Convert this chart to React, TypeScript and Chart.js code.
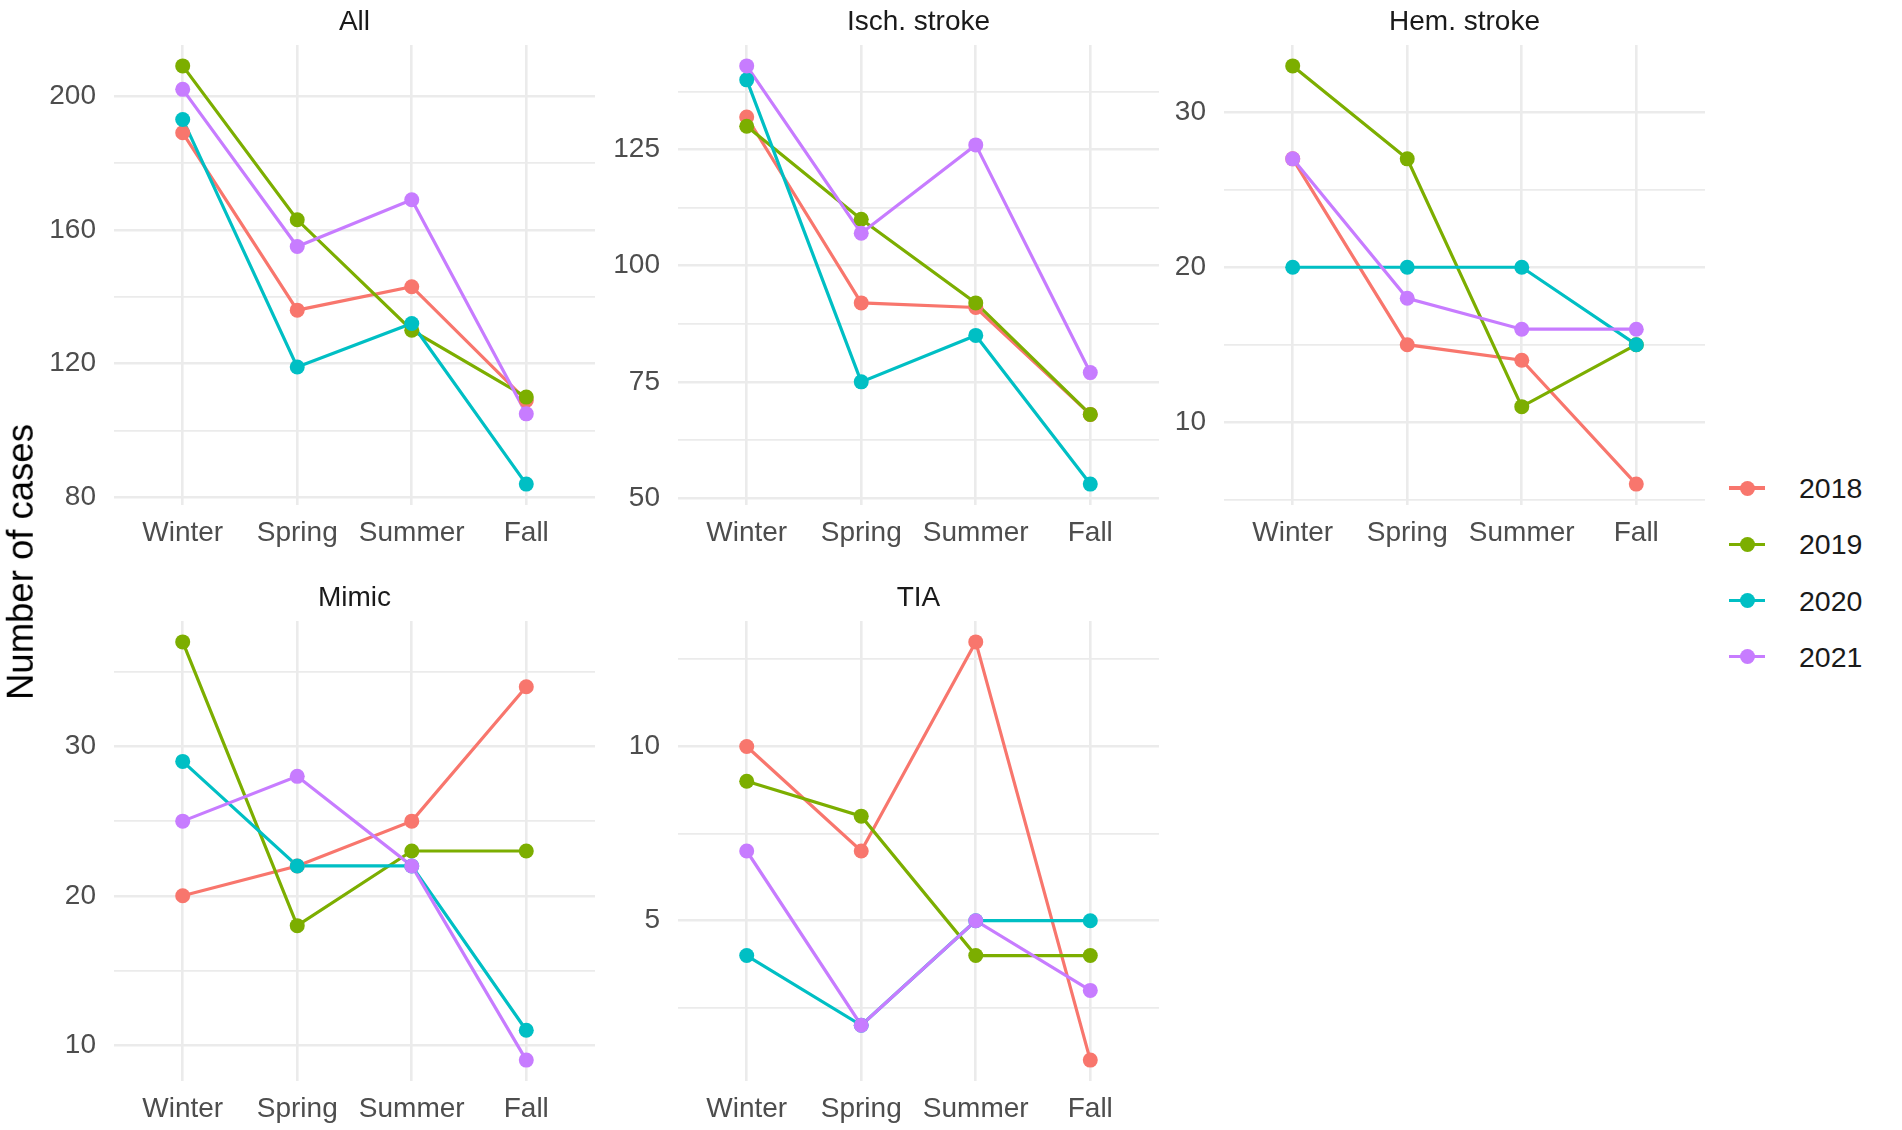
import React, { useEffect, useRef } from "react";
import Chart from "chart.js/auto";

const seasons = ["Winter", "Spring", "Summer", "Fall"];
const years = ["2018", "2019", "2020", "2021"];
const yearColors = ["#F8766D", "#7CAE00", "#00BFC4", "#C77CFF"];

// cases per season, one row per year (2018, 2019, 2020, 2021)
const allCases = [
  [189, 136, 143, 109],
  [209, 163, 130, 110],
  [193, 119, 132, 84],
  [202, 155, 169, 105],
];
const ischCases = [
  [132, 92, 91, 68],
  [130, 110, 92, 68],
  [140, 75, 85, 53],
  [143, 107, 126, 77],
];
const hemCases = [
  [27, 15, 14, 6],
  [33, 27, 11, 15],
  [20, 20, 20, 15],
  [27, 18, 16, 16],
];
const mimicCases = [
  [20, 22, 25, 34],
  [37, 18, 23, 23],
  [29, 22, 22, 11],
  [25, 28, 22, 9],
];
const tiaCases = [
  [10, 7, 13, 1],
  [9, 8, 4, 4],
  [4, 2, 5, 5],
  [7, 2, 5, 3],
];

// labelled (major) and unlabelled (minor) y gridlines per panel
const allMajor = [80, 120, 160, 200];
const allMinor = [100, 140, 180];
const ischMajor = [50, 75, 100, 125];
const ischMinor = [62.5, 87.5, 112.5, 137.5];
const hemMajor = [10, 20, 30];
const hemMinor = [5, 15, 25];
const mimicMajor = [10, 20, 30];
const mimicMinor = [15, 25, 35];
const tiaMajor = [5, 10];
const tiaMinor = [2.5, 7.5, 12.5];

const FONT = "'Liberation Sans', Arial, Helvetica, sans-serif";
const TEXT_SIZE = 28;
const PLOT_W = 481;
const PLOT_H = 460;
const AXIS_W = 110;
const TITLE_H = 45;
const XAXIS_H = 60;
const RIGHT_PAD = 12;

type PanelProps = {
  title: string;
  values: number[][];
  major: number[];
  minor: number[];
  left: number;
  top: number;
};

const Panel: React.FC<PanelProps> = ({ title, values, major, minor, left, top }) => {
  const canvasRef = useRef<HTMLCanvasElement | null>(null);

  useEffect(() => {
    if (!canvasRef.current) return;
    const flat = values.flat();
    const lo = Math.min(...flat);
    const hi = Math.max(...flat);
    const pad = (hi - lo) * 0.05;
    const yTicks = [...major, ...minor].sort((a, b) => a - b);

    const lines = values.map((row, i) => ({
      label: years[i],
      data: row.map((v, j) => ({ x: j, y: v })),
      borderColor: yearColors[i],
      backgroundColor: yearColors[i],
      borderWidth: 3.2,
      pointRadius: 0,
      pointHoverRadius: 0,
      order: 8 - i,
    }));
    const points = values.map((row, i) => ({
      label: years[i],
      data: row.map((v, j) => ({ x: j, y: v })),
      showLine: false,
      pointBackgroundColor: yearColors[i],
      pointBorderWidth: 0,
      pointRadius: 7.5,
      order: 4 - i,
    }));

    const chart = new Chart(canvasRef.current, {
      type: "line",
      data: { datasets: [...lines, ...points] as any },
      options: {
        animation: false,
        responsive: false,
        events: [],
        layout: { padding: { left: 0, right: RIGHT_PAD, top: 0, bottom: 0 } },
        plugins: {
          legend: { display: false },
          tooltip: { enabled: false },
          title: {
            display: true,
            text: title,
            fullSize: false,
            color: "#1A1A1A",
            font: { family: FONT, size: TEXT_SIZE, weight: "normal" },
            padding: { top: 5, bottom: 6.4 },
          },
        },
        scales: {
          x: {
            type: "linear",
            min: -0.6,
            max: 3.6,
            afterBuildTicks: (axis: any) => {
              axis.ticks = seasons.map((_, j) => ({ value: j }));
            },
            afterFit: (axis: any) => {
              axis.height = XAXIS_H;
            },
            grid: { color: "#EBEBEB", lineWidth: 2.6, drawTicks: false },
            border: { display: false },
            ticks: {
              callback: (v: any) => seasons[v],
              color: "#4D4D4D",
              font: { family: FONT, size: TEXT_SIZE },
              padding: 11,
              autoSkip: false,
              maxRotation: 0,
            },
          },
          y: {
            type: "linear",
            min: lo - pad,
            max: hi + pad,
            afterBuildTicks: (axis: any) => {
              axis.ticks = yTicks.map((v) => ({ value: v }));
            },
            afterFit: (axis: any) => {
              axis.width = AXIS_W;
            },
            grid: {
              color: "#EBEBEB",
              lineWidth: (ctx: any) => (ctx.tick && major.includes(ctx.tick.value) ? 2.6 : 1.8),
              drawTicks: false,
            },
            border: { display: false },
            ticks: {
              callback: (v: any) => (major.includes(v) ? String(v) : ""),
              color: "#4D4D4D",
              font: { family: FONT, size: TEXT_SIZE },
              padding: 18,
              autoSkip: false,
            },
          },
        },
      },
    });

    return () => {
      chart.destroy();
    };
  }, []);

  return (
    <canvas
      ref={canvasRef}
      width={AXIS_W + PLOT_W + RIGHT_PAD}
      height={TITLE_H + PLOT_H + XAXIS_H}
      style={{ position: "absolute", left: left - AXIS_W, top: top - TITLE_H }}
    />
  );
};

const App: React.FC = () => {
  useEffect(() => {
    document.body.style.margin = "0";
  }, []);

  return (
    <div
      style={{
        position: "absolute",
        left: 0,
        top: 0,
        width: 1902,
        height: 1130,
        overflow: "hidden",
        background: "#FFFFFF",
        fontFamily: FONT,
      }}>
      <Panel title="All" values={allCases} major={allMajor} minor={allMinor} left={114} top={45} />
      <Panel title="Isch. stroke" values={ischCases} major={ischMajor} minor={ischMinor} left={678} top={45} />
      <Panel title="Hem. stroke" values={hemCases} major={hemMajor} minor={hemMinor} left={1224} top={45} />
      <Panel title="Mimic" values={mimicCases} major={mimicMajor} minor={mimicMinor} left={114} top={621} />
      <Panel title="TIA" values={tiaCases} major={tiaMajor} minor={tiaMinor} left={678} top={621} />

      <div
        style={{
          position: "absolute",
          left: 21,
          top: 562,
          transform: "translate(-50%, -50%) rotate(-90deg)",
          fontSize: 36.5,
          color: "#000000",
          whiteSpace: "nowrap",
          lineHeight: 1,
        }}>
        Number of cases
      </div>

      {years.map((y, i) => (
        <div key={y} style={{ position: "absolute", left: 1729, top: 488 + i * 56.3 - 20, height: 40, width: 173 }}>
          <div
            style={{
              position: "absolute",
              left: 0,
              top: 18.4,
              width: 36,
              height: 3.2,
              background: yearColors[i],
            }}
          />
          <div
            style={{
              position: "absolute",
              left: 10.5,
              top: 12.5,
              width: 15,
              height: 15,
              borderRadius: "50%",
              background: yearColors[i],
            }}
          />
          <div
            style={{
              position: "absolute",
              left: 70,
              top: 0,
              height: 40,
              lineHeight: "40px",
              fontSize: 28.5,
              color: "#1A1A1A",
            }}>
            {y}
          </div>
        </div>
      ))}
    </div>
  );
};

export default App;
